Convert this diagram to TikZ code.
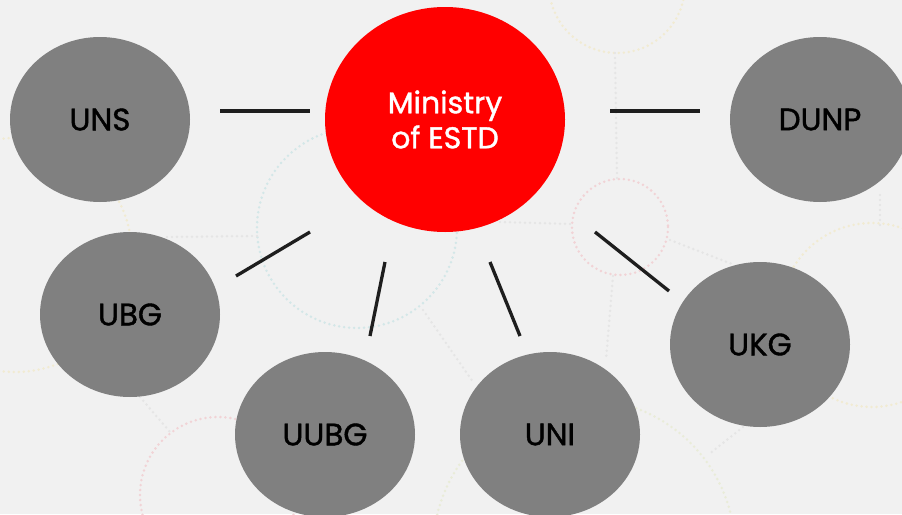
\documentclass[tikz,border=0pt]{standalone}
\usepackage{fontspec}
\setmainfont{Poppins}
\newfontfamily\labelfont[FakeBold=1.3]{Poppins}
\usetikzlibrary{shapes.geometric}
\definecolor{bg}{HTML}{F1F1F1}
\definecolor{nodegray}{HTML}{808080}
\definecolor{minred}{HTML}{FF0000}
\definecolor{linecol}{HTML}{1E1E1E}
\definecolor{dotblue}{HTML}{D3E7E8}
\definecolor{dotred}{HTML}{F1D3D6}
\definecolor{dotyellow}{HTML}{F1EBD2}
\definecolor{dotgreen}{HTML}{E9ECD8}
\definecolor{dotgray}{HTML}{E5E5E5}
\tikzset{
  unit/.style={ellipse, fill=nodegray, minimum width=180pt, minimum height=165pt, inner sep=0pt,
    font=\labelfont\fontsize{31}{37}\selectfont, text=black},
  ministry/.style={ellipse, fill=minred, minimum width=240pt, minimum height=225pt, inner sep=0pt,
    font=\labelfont\fontsize{30}{35}\selectfont, text=white, align=center},
  link/.style={draw=linecol, line width=3.3pt},
  dotring/.style={line width=2.8pt, line cap=round, dash pattern=on 0pt off 5pt},
}
\begin{document}
\begin{tikzpicture}[x=1pt,y=-1pt]
\fill[bg] (0,0) rectangle (902,514);
\useasboundingbox (0,0) rectangle (902,514);
\clip (0,0) rectangle (902,514);
% background decoration
\draw[dotring, dotblue] (357,228) circle[radius=100];
\draw[dotring, dotred] (620,227) circle[radius=48];
\draw[dotring, dotyellow] (617,-15) circle[radius=68];
\draw[dotring, dotyellow] (15,255) circle[radius=117];
\draw[dotring, dotyellow] (872,315) circle[radius=92];
\draw[dotring, dotred] (218,495) circle[radius=78];
\draw[dotring, dotgreen] (584,550) circle[radius=151];
\draw[dotring, dotgray] (167,237) -- (257,236);
\draw[dotring, dotgray] (500,222) -- (572,224);
\draw[dotring, dotgray] (615,53) -- (617,178);
\draw[dotring, dotgray] (613,276) -- (606,360);
\draw[dotring, dotgray] (423,310) -- (473,382);
\draw[dotring, dotgray] (670,240) -- (732,264);
\draw[dotring, dotgray] (743,427) -- (708,455);
\draw[dotring, dotgray] (140,397) -- (170,432);
\draw[dotring, dotgray] (880,195) -- (880,225);
% nodes
\node[ministry] (min) at (445,119.5) {Ministry\\of ESTD};
\node[unit] (uns) at (100,119.5) {UNS};
\node[unit] (dunp) at (820,119.5) {DUNP};
\node[unit] (ubg) at (130,314.5) {UBG};
\node[unit] (uubg) at (325,434.5) {UUBG};
\node[unit] (uni) at (550,434.5) {UNI};
\node[unit] (ukg) at (760,344.5) {UKG};
% connector ends
\coordinate (l1a) at (220,111); \coordinate (l1b) at (310,111);
\coordinate (l2a) at (610,111); \coordinate (l2b) at (700,111);
\coordinate (l3a) at (310,232); \coordinate (l3b) at (236,276);
\coordinate (l4a) at (385,262); \coordinate (l4b) at (370,336);
\coordinate (l5a) at (490,262); \coordinate (l5b) at (520,336);
\coordinate (l6a) at (595,232); \coordinate (l6b) at (669,291);
\draw[link] (l1a) -- (l1b);
\draw[link] (l2a) -- (l2b);
\draw[link] (l3a) -- (l3b);
\draw[link] (l4a) -- (l4b);
\draw[link] (l5a) -- (l5b);
\draw[link] (l6a) -- (l6b);
\end{tikzpicture}
\end{document}
